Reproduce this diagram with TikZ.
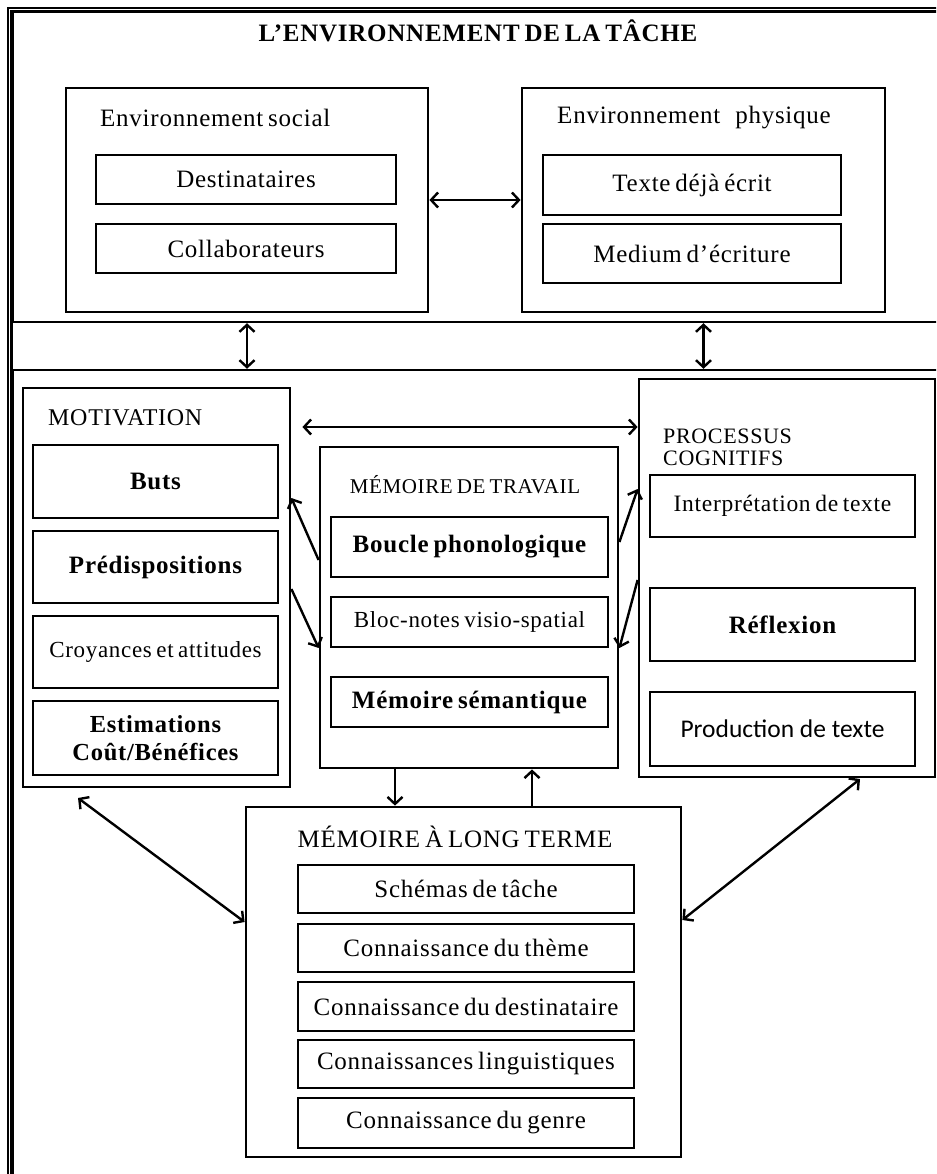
\documentclass[tikz,border=0pt]{standalone}
\usepackage{fontspec}
\setmainfont{Liberation Serif}[LetterSpace=3, WordSpace=0.7]
\newfontfamily\calibrifont{Carlito}
\usetikzlibrary{arrows.meta}
\newcommand\bodysize{\fontsize{25}{28}\selectfont}
\newcommand\labelsize[1]{\fontsize{#1}{22}\selectfont}
\begin{document}
\begin{tikzpicture}[x=1pt,y=-1pt,
  frame/.style={draw, line width=2.4pt, inner sep=0pt, rectangle},
  container/.style={draw, line width=2.8pt, inner sep=0pt, rectangle},
  item/.style={draw, line width=2.8pt, inner sep=0pt, rectangle, align=center, font=\bodysize},
  heading/.style={inner sep=0pt, font=\bodysize},
  link/.style={line width=2.4pt, {Straight Barb[length=7pt,width=15pt]}-{Straight Barb[length=7pt,width=15pt]}},
  oneway/.style={line width=2.4pt, -{Straight Barb[length=7pt,width=15pt]}}]
\useasboundingbox (0,0) rectangle (936,1174);
\clip (0,0) rectangle (936,1174);
\fill[white] (0,0) rectangle (936,1174);

% double outer frame and the two sections
\node[frame, minimum width=992pt, minimum height=1232pt] (outer) at (504,624) {};
\node[frame, minimum width=983.5pt, minimum height=310.5pt] (tache) at (504.25,166.75) {};
\node[frame, minimum width=983.5pt, minimum height=880pt] (lower) at (504.25,810) {};
\draw[line width=2.4pt] (tache.north west) -- (lower.south west);

\node[heading, font=\bodysize\bfseries] (title) at (478,31) {L’ENVIRONNEMENT DE LA TÂCHE};

% social environment
\node[container, minimum width=362pt, minimum height=224pt] (soc) at (247,200) {};
\node[heading, anchor=west] (soctitle) at (100,118) {Environnement social};
\node[item, minimum width=300pt, minimum height=49pt] (dest) at (246,179.5) {Destinataires};
\node[item, minimum width=300pt, minimum height=49pt] (coll) at (246,248.5) {Collaborateurs};

% physical environment
\node[container, minimum width=363pt, minimum height=224pt] (phys) at (703.5,200) {};
\node[heading] (phystitle) at (694,118) {Environnement\hspace{0.4em} physique};
\node[item, minimum width=298pt, minimum height=60pt] (texte) at (692,185) {Texte déjà écrit};
\node[item, minimum width=298pt, minimum height=59pt] (medium) at (692,253.5) {Medium d’écriture};

% motivation
\node[container, minimum width=267pt, minimum height=399pt] (motiv) at (156.5,587.5) {};
\node[heading, anchor=west, font=\labelsize{24}] (motivtitle) at (48,418) {MOTIVATION};
\node[item, minimum width=245pt, minimum height=73pt, font=\bodysize\bfseries] (buts) at (155.5,481.5) {Buts};
\node[item, minimum width=245pt, minimum height=72pt, font=\bodysize\bfseries] (predis) at (155.5,567) {Prédispositions};
\node[item, minimum width=245pt, minimum height=72pt, font=\labelsize{23}] (croy) at (155.5,652) {Croyances et attitudes};
\node[item, minimum width=245pt, minimum height=74pt, font=\fontsize{24.5}{28}\selectfont\bfseries] (estim) at (155.5,738) {Estimations\\Coût/Bénéfices};

% working memory
\node[container, minimum width=298pt, minimum height=321pt] (mdt) at (469,607.5) {};
\node[heading, font=\labelsize{21}] (mdttitle) at (465,485) {MÉMOIRE DE TRAVAIL};
\node[item, minimum width=277pt, minimum height=60pt, font=\bodysize\bfseries] (boucle) at (469.5,547) {Boucle phonologique};
\node[item, minimum width=277pt, minimum height=50pt, font=\labelsize{23}] (bloc) at (469.5,622) {Bloc-notes visio-spatial};
\node[item, minimum width=277pt, minimum height=50pt, font=\bodysize\bfseries] (sem) at (469.5,702) {Mémoire sémantique};

% cognitive processes
\node[container, minimum width=296pt, minimum height=398pt] (proc) at (787,578) {};
\node[heading, anchor=west, align=left, font=\labelsize{22}] (proctitle) at (663,447) {PROCESSUS\\COGNITIFS};
\node[item, minimum width=265pt, minimum height=62pt, font=\labelsize{23.5}] (interp) at (782.5,506) {Interprétation de texte};
\node[item, minimum width=265pt, minimum height=73pt, font=\bodysize\bfseries] (refl) at (782.5,624.5) {Réflexion};
\node[item, minimum width=265pt, minimum height=74pt, font=\calibrifont\fontsize{25.5}{28}\selectfont] (prod) at (782.5,729) {Production de texte};

% long-term memory
\node[container, minimum width=435pt, minimum height=350pt] (lt) at (463.5,982) {};
\node[heading] (lttitle) at (455,837) {MÉMOIRE À LONG TERME};
\node[item, minimum width=336pt, minimum height=48pt] (schem) at (466,889) {Schémas de tâche};
\node[item, minimum width=336pt, minimum height=48pt] (theme) at (466,948) {Connaissance du thème};
\node[item, minimum width=336pt, minimum height=49pt] (destin) at (466,1006.5) {Connaissance du destinataire};
\node[item, minimum width=336pt, minimum height=48pt] (ling) at (466,1064) {Connaissances linguistiques};
\node[item, minimum width=336pt, minimum height=50pt] (genre) at (466,1123) {Connaissance du genre};

% connectors
\draw[link] (soc) -- (phys);
\draw[link] (soc.south |- tache.south) -- (soc.south |- lower.north);
\draw[link] (phys.south |- tache.south) -- (phys.south |- lower.north);
\draw[link] ([xshift=11pt]motiv.east |- 0,427) -- (proc.west |- 0,427);
\draw[oneway] (mdt.west |- 0,560) -- (motiv.east |- 0,498);
\draw[oneway] (motiv.east |- 0,589) -- (mdt.west |- 0,648);
\draw[oneway] (mdt.east |- 0,542) -- (proc.west |- 0,489);
\draw[oneway] (proc.west |- 0,580) -- (mdt.east |- 0,648);
\draw[oneway] (395,0 |- mdt.south) -- (395,0 |- lt.north);
\draw[oneway] (532,0 |- lt.north) -- (532,0 |- mdt.south);
\draw[link] (78,798) -- (lt.west |- 0,922);
\draw[link] (860,779) -- (lt.east |- 0,920);
\end{tikzpicture}
\end{document}
